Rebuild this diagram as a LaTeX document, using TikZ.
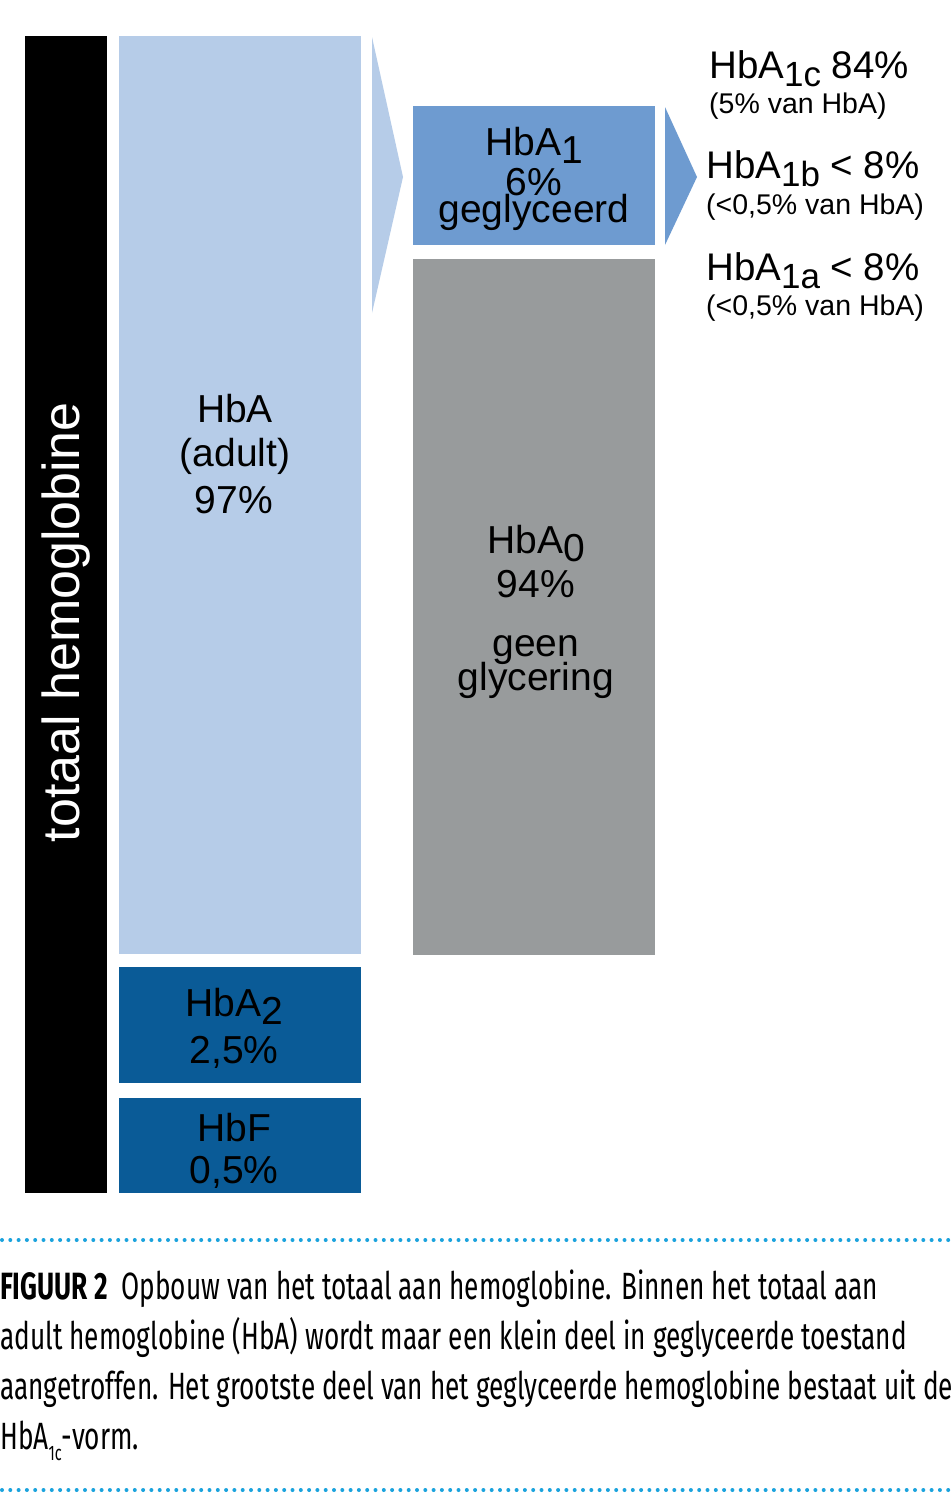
\documentclass[tikz,border=0pt]{standalone}
\usepackage{fontspec}
\setmainfont{Liberation Sans}
\newfontfamily\capfont[FakeStretch=0.69]{Fira Sans}
\definecolor{ctotal}{HTML}{000000}
\definecolor{chba}{HTML}{B6CCE8}
\definecolor{chbaone}{HTML}{6E9BD0}
\definecolor{cgray}{HTML}{989B9C}
\definecolor{cdark}{HTML}{0A5B97}
\definecolor{cdots}{HTML}{1BA3DD}
\newcommand\lowsub[1]{\raisebox{-0.22em}{#1}}
\newcommand\sidesub[1]{\raisebox{-8.5pt}{\fontsize{35}{35}\selectfont #1}}
\tikzset{
  blockbox/.style={draw=none, inner sep=0pt, outer sep=0pt, anchor=north west},
  biglbl/.style={inner sep=0pt, anchor=base, text=black, font=\fontsize{39}{39}\selectfont},
  sidelbl/.style={inner sep=0pt, anchor=base west, text=black, font=\fontsize{38.5}{38.5}\selectfont},
  smalllbl/.style={inner sep=0pt, anchor=base west, text=black, font=\fontsize{28.5}{28.5}\selectfont},
  caplbl/.style={inner sep=0pt, anchor=base west, text=black, font=\capfont\fontsize{38}{38}\selectfont},
  dotline/.style={cdots, line width=4pt, line cap=round, dash pattern=on 0pt off 8.3pt}
}
\begin{document}
\begin{tikzpicture}[x=1pt,y=-1pt]
\useasboundingbox (0,0) rectangle (951,1500);
\fill[white] (0,0) rectangle (951,1500);

% blocks
\node[blockbox, fill=ctotal, minimum width=82pt, minimum height=1157pt] (total) at (25,36) {};
\node[blockbox, fill=chba, minimum width=242pt, minimum height=918pt] (hba) at (119,36) {};
\node[blockbox, fill=chbaone, minimum width=242pt, minimum height=139pt] (hbaone) at (413,106) {};
\node[blockbox, fill=cgray, minimum width=242pt, minimum height=696pt] (hbazero) at (413,259) {};
\node[blockbox, fill=cdark, minimum width=242pt, minimum height=116pt] (hbatwo) at (119,967) {};
\node[blockbox, fill=cdark, minimum width=242pt, minimum height=95pt] (hbf) at (119,1098) {};

% chevrons
\fill[chba] (372,37) -- (403,177) -- (372,313) -- cycle;
\fill[chbaone] (665,107) -- (697,177) -- (665,245) -- cycle;

% vertical label
\node[rotate=90, anchor=base, inner sep=0pt, text=white, font=\fontsize{52}{52}\selectfont] (tlabel) at (79,622.5) {totaal hemoglobine};

% HbA
\node[biglbl] (hbaa) at (235,422) {HbA};
\node[biglbl] (hbab) at (235,466) {(adult)};
\node[biglbl] (hbac) at (234,513) {97\%};

% HbA1
\node[biglbl] (onea) at (534,155) {HbA\lowsub{1}};
\node[biglbl] (oneb) at (534,195) {6\%};
\node[biglbl] (onec) at (534,222) {geglyceerd};

% HbA0
\node[biglbl] (zeroa) at (536,553) {HbA\lowsub{0}};
\node[biglbl] (zerob) at (536,597) {94\%};
\node[biglbl] (zeroc) at (536,656) {geen};
\node[biglbl] (zerod) at (536,690) {glycering};

% HbA2, HbF
\node[biglbl] (twoa) at (234,1016) {HbA\lowsub{2}};
\node[biglbl] (twob) at (234,1063) {2,5\%};
\node[biglbl] (fa) at (234,1141) {HbF};
\node[biglbl] (fb) at (234,1183) {0,5\%};

% right labels
\node[sidelbl] (ca) at (709,78) {HbA\sidesub{1c} 84\%};
\node[smalllbl] (cb) at (709,113) {(5\% van HbA)};
\node[sidelbl] (ba) at (706,178) {HbA\sidesub{1b} < 8\%};
\node[smalllbl] (bb) at (706,214) {(<0,5\% van HbA)};
\node[sidelbl] (aa) at (706,280) {HbA\sidesub{1a} < 8\%};
\node[smalllbl] (ab) at (706,315) {(<0,5\% van HbA)};

% caption
\coordinate (dla) at (2,1240);
\coordinate (dlb) at (951,1240);
\coordinate (dlc) at (2,1490);
\coordinate (dld) at (951,1490);
\draw[dotline] (dla) -- (dlb);
\draw[dotline] (dlc) -- (dld);
\node[caplbl] (capa) at (0,1299) {\textbf{FIGUUR 2}\ \ Opbouw van het totaal aan hemoglobine. Binnen het totaal aan};
\node[caplbl] (capb) at (0,1349) {adult hemoglobine (HbA) wordt maar een klein deel in geglyceerde toestand};
\node[caplbl] (capc) at (0,1399) {aangetroffen. Het grootste deel van het geglyceerde hemoglobine bestaat uit de};
\node[caplbl] (capd) at (0,1449) {HbA\raisebox{-0.3em}{\fontsize{21}{21}\selectfont 1c}-vorm.};
\end{tikzpicture}
\end{document}
